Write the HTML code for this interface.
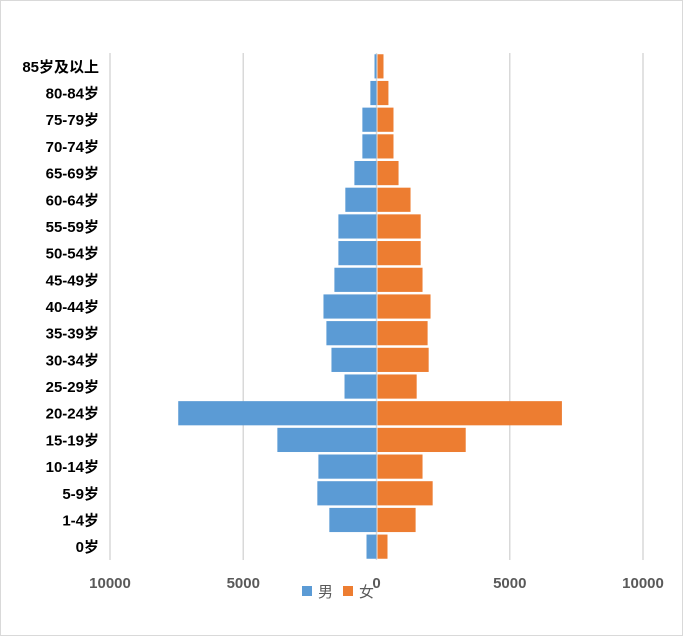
<!DOCTYPE html>
<html><head><meta charset="utf-8"><style>
body{margin:0;background:#fff}
svg{display:block;font-family:"Liberation Sans","Noto Sans CJK SC",sans-serif}
</style></head><body>
<svg id="chart" width="683" height="636">
<rect x="0.5" y="0.5" width="682" height="635" fill="#fff" stroke="#d9d9d9"/>
<g id="grid"></g><g id="bars"></g><g id="labels"></g>
<g>
<rect x="302" y="586" width="10" height="10" fill="#5b9bd5"/>
<text x="318" y="597" font-size="15" fill="#595959">男</text>
<rect x="343" y="586" width="10" height="10" fill="#ed7d31"/>
<text x="359" y="597" font-size="15" fill="#595959">女</text>
</g>
</svg>
<script>
const categories=["0岁","1-4岁","5-9岁","10-14岁","15-19岁","20-24岁","25-29岁","30-34岁","35-39岁","40-44岁","45-49岁","50-54岁","55-59岁","60-64岁","65-69岁","70-74岁","75-79岁","80-84岁","85岁及以上"];
const male=[375,1770,2220,2180,3720,7440,1200,1690,1880,1990,1580,1430,1430,1170,830,530,530,230,75];
const female=[375,1430,2070,1690,3310,6920,1470,1920,1880,1990,1690,1620,1620,1240,790,600,600,410,225];
const ticks=[-10000,-5000,0,5000,10000];
const tickLabels=["10000","5000","0","5000","10000"];
const NS="http://www.w3.org/2000/svg";
const x0=376.5, pxPer=266.5/10000, plotTop=53, plotBottom=560;
const xs=v=>x0+v*pxPer;
const band=(plotBottom-plotTop)/categories.length;
const yc=i=>plotBottom-band*(i+0.5);
function mk(tag,attrs,parent){const e=document.createElementNS(NS,tag);for(const k in attrs)e.setAttribute(k,attrs[k]);parent.appendChild(e);return e;}
const grid=document.getElementById('grid'),bars=document.getElementById('bars'),labels=document.getElementById('labels');
ticks.forEach((t,i)=>{
 const l=mk('line',{x1:xs(t),x2:xs(t),y1:plotTop,y2:plotBottom,stroke:'#d9d9d9','stroke-width':1.5},grid);
 
 
 const tx=mk('text',{x:xs(t),y:588,'text-anchor':'middle','font-size':15,'font-weight':'bold',fill:'#595959'},labels);
 tx.textContent=tickLabels[i];
 
 
});
categories.forEach((c,i)=>{
 const h=band-2.5, y=yc(i)-h/2;
 const m=mk('rect',{x:xs(-male[i]),y:y,width:xs(0)-xs(-male[i]),height:h,fill:'#5b9bd5'},bars);
 
 
 const f=mk('rect',{x:xs(0)+1,y:y,width:xs(female[i])-xs(0),height:h,fill:'#ed7d31'},bars);
 
 
 const t=mk('text',{x:99,y:yc(i)+5.5,'text-anchor':'end','font-size':15,'font-weight':'bold',fill:'#000'},labels);
 t.textContent=c;
 
 
});
</script>
</body></html>
